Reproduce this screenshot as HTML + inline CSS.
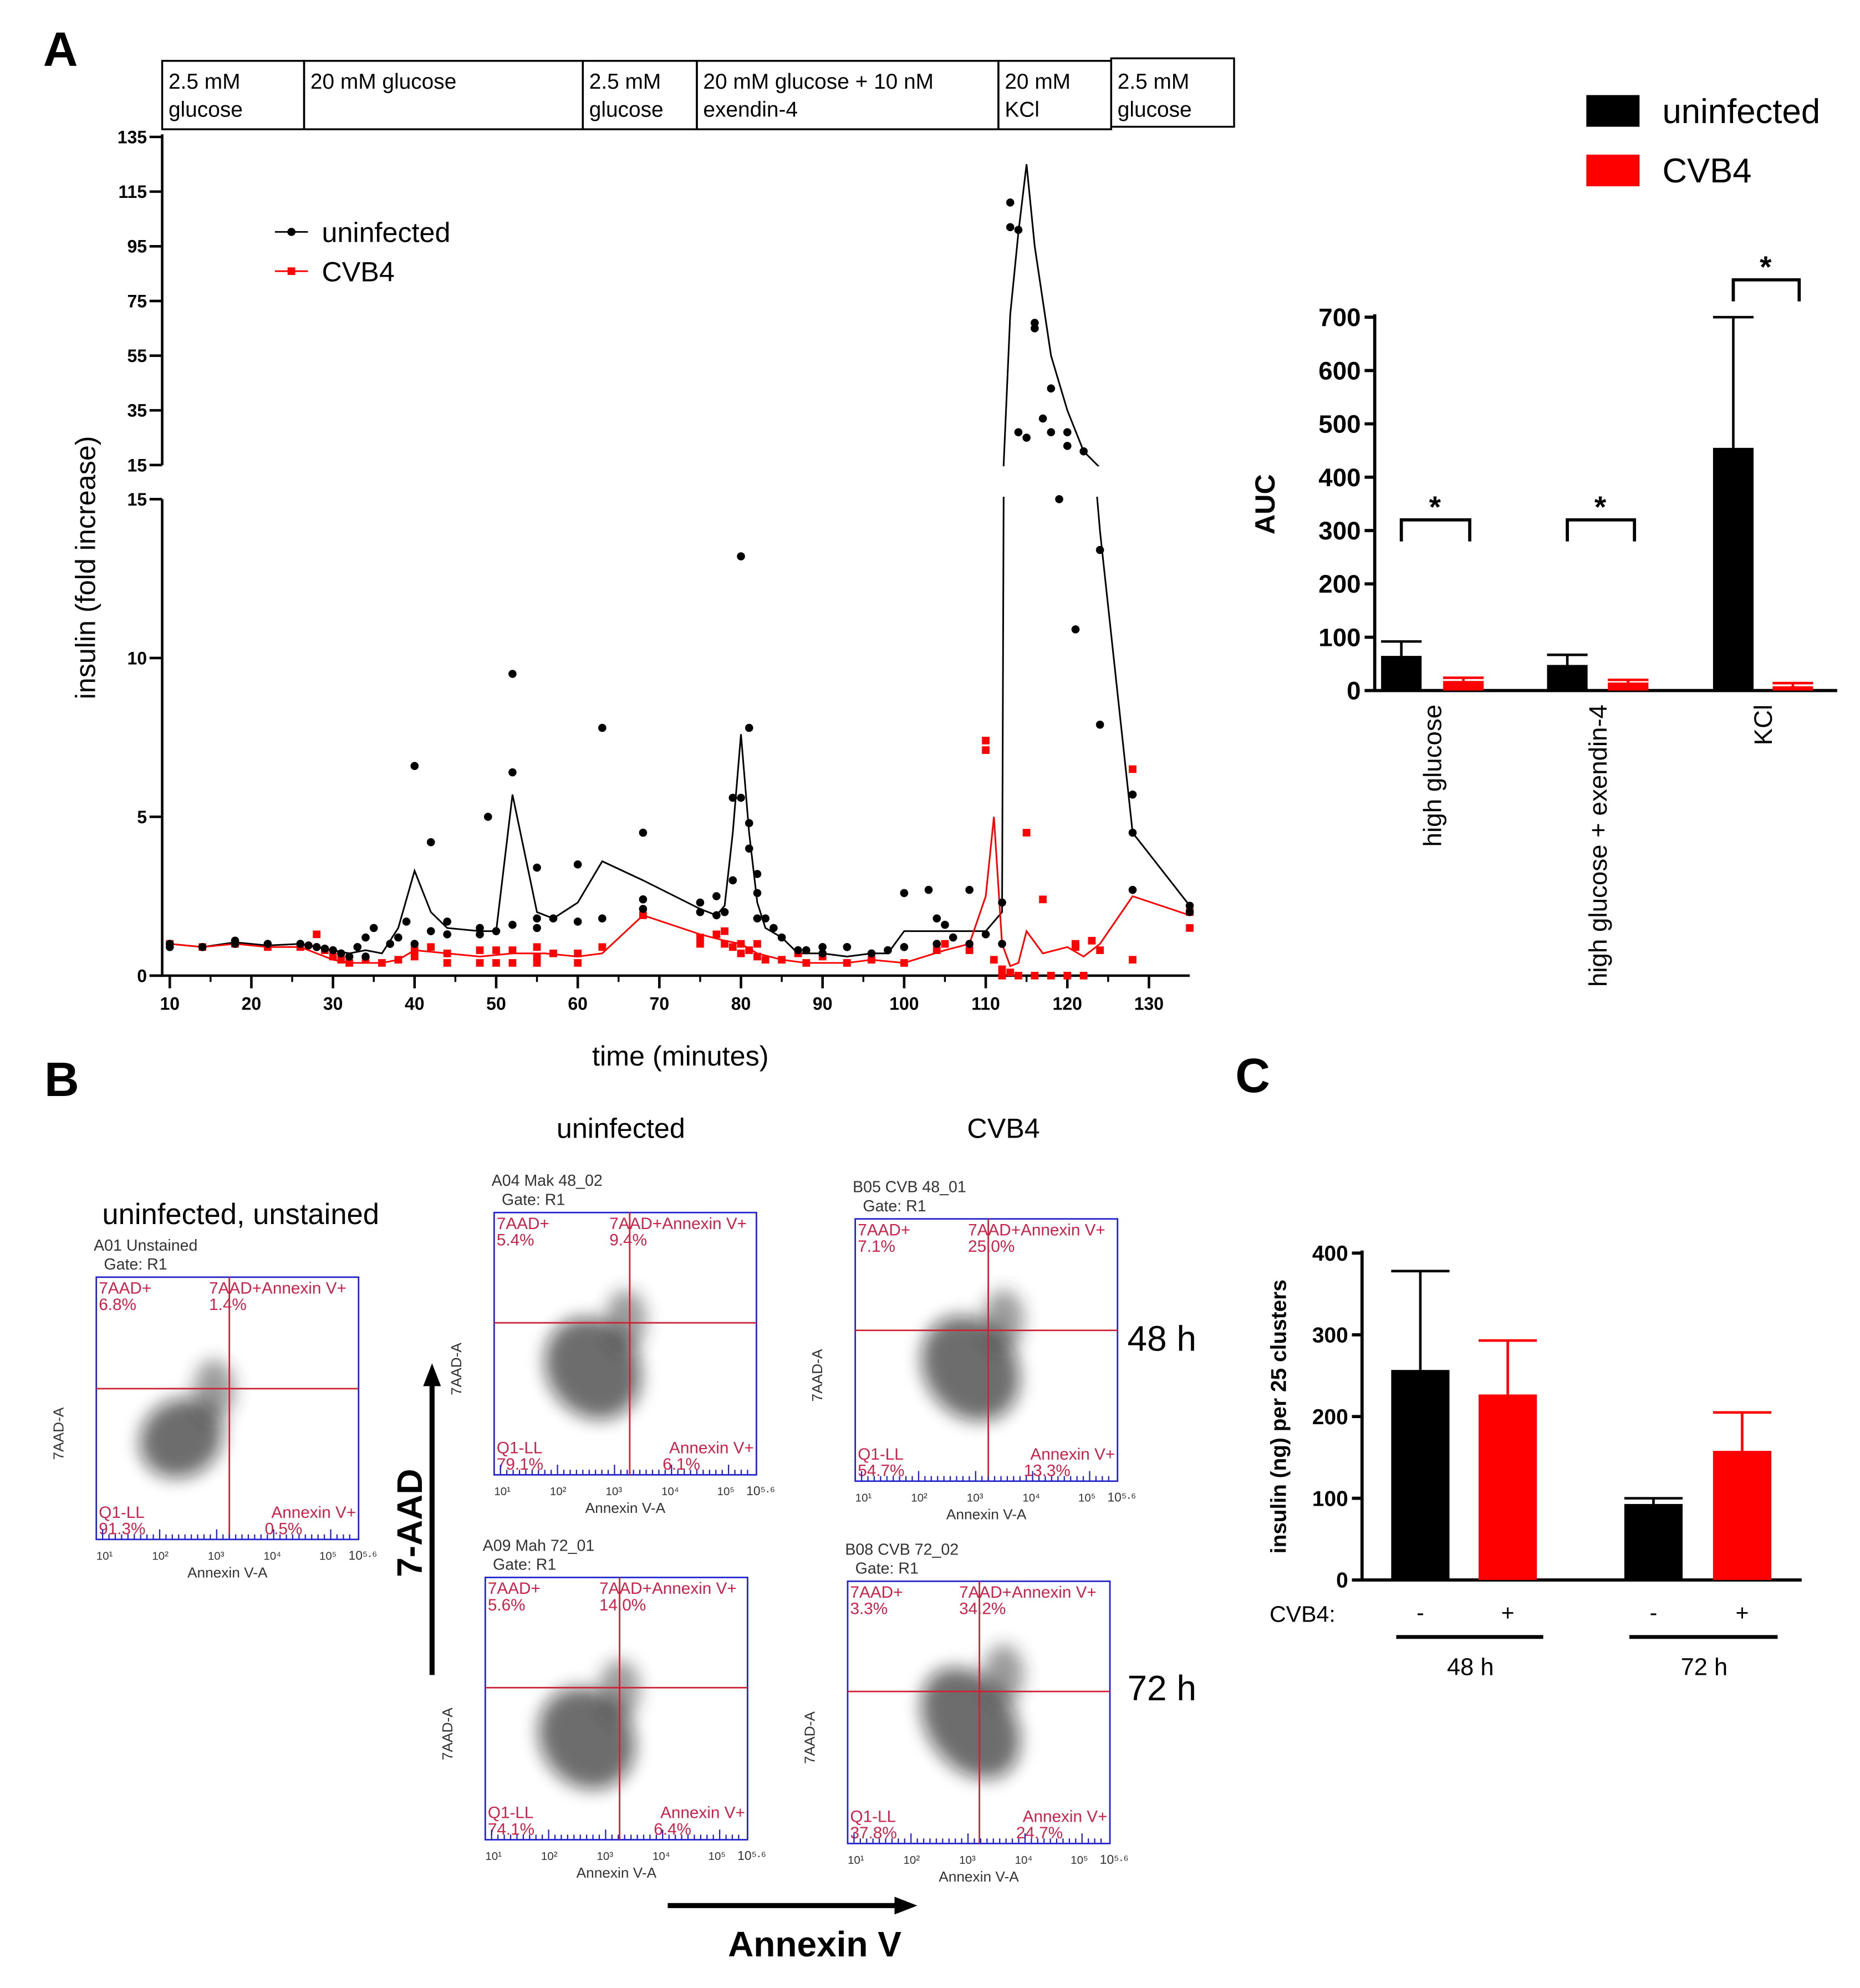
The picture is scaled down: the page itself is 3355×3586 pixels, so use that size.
<!DOCTYPE html>
<html><head><meta charset="utf-8">
<style>
html,body{margin:0;padding:0;background:#fff;}
svg{display:block;font-family:"Liberation Sans",Arial,sans-serif;}
</style></head>
<body>
<svg id="fig" width="3355" height="3586" viewBox="0 0 1468 1569" xmlns="http://www.w3.org/2000/svg">
<defs>
<filter id="blur" x="-50%" y="-50%" width="200%" height="200%"><feGaussianBlur stdDeviation="7"/></filter>
<clipPath id="clipLow"><rect x="100" y="392" width="860" height="390"/></clipPath>
<clipPath id="clipUp"><rect x="100" y="100" width="860" height="268"/></clipPath>
</defs>
<g id="panelA"></g>
<g id="panelAuc"></g>
<g id="panelB"></g>
<g id="panelC"></g>
</svg>
<script>
// ---------- Panel A data ----------
const tickTimes = [10,20,30,40,50,60,70,80,90,100,110,120,130];
const lowTicks = [0,5,10,15];
const upTicks = [15,35,55,75,95,115,135];
const meanUninfT = [10,14,18,22,26,28,30,32,34,36,38,40,42,44,48,50,52,55,57,60,63,68,75,77,78,79,80,81,82,83,85,87,90,93,96,98,100,105,108,110,112,113,114,115,116,118,120,122,124,128,135];
const meanUninfV = [1,0.9,1.05,0.95,1,0.9,0.8,0.7,0.8,0.7,1.5,3.3,2.0,1.5,1.4,1.4,5.7,2.0,1.8,2.3,3.6,3.0,2.1,1.9,2.2,4.5,7.6,4.5,2.3,1.5,1.2,0.7,0.7,0.6,0.7,0.7,1.4,1.4,1.4,1.4,2.0,70,100,125,95,55,35,20,14,4.5,2.2];
const meanCvbT = [10,14,18,22,26,28,30,32,36,38,40,44,48,52,56,60,63,68,75,78,80,82,85,88,93,96,100,105,108,110,111,112,113,114,115,117,120,122,124,128,135];
const meanCvbV = [1,0.9,1.0,0.9,0.9,0.7,0.5,0.4,0.4,0.5,0.8,0.7,0.6,0.7,0.7,0.6,0.7,1.9,1.3,1.1,1.0,0.7,0.5,0.4,0.4,0.5,0.4,0.8,1.0,2.5,5.0,1.0,0.3,0.4,1.4,0.7,0.9,0.6,1.0,2.5,1.9];
const dotUninfT = [10,10,14,18,18,22,26,27,28,29,30,31,32,33,34,34,35,37,38,39,40,40,42,42,44,44,48,48,49,50,52,52,52,55,55,55,57,60,60,63,63,68,68,68,75,75,77,77,78,79,79,80,80,81,81,81,82,82,82,83,84,85,87,88,90,90,93,96,98,100,100,103,104,104,105,106,108,108,110,112,112,113,113,114,114,115,116,116,117,118,118,119,120,120,122,124,121,124,128,128,128,135,135];
const dotUninfV = [1.0,0.9,0.9,1.1,1.0,1.0,1.0,0.95,0.9,0.85,0.8,0.7,0.6,0.9,1.2,0.6,1.5,1.0,1.2,1.7,6.6,1.0,4.2,1.4,1.7,1.3,1.5,1.3,5.0,1.4,9.5,6.4,1.6,3.4,1.8,1.5,1.8,3.5,1.7,7.8,1.8,4.5,2.4,2.1,2.3,2.0,1.9,2.5,2.0,3.0,5.6,5.6,13.2,7.8,4.8,4.0,3.2,1.8,2.6,1.8,1.5,1.2,0.8,0.8,0.9,0.7,0.9,0.7,0.8,2.6,0.9,2.7,1.8,1.0,1.6,1.2,2.7,1.0,1.3,2.3,1.0,102,111,101,27,25,67,65,32,43,27,15,22,27,20,13.4,10.9,7.9,5.7,4.5,2.7,2.2,2.0];
const dotCvbT = [10,14,18,22,26,28,29,30,31,32,34,36,38,40,40,42,44,44,48,48,50,50,52,52,55,55,55,57,60,60,63,68,75,75,77,78,78,79,80,80,81,82,82,83,85,87,88,90,93,96,100,104,105,108,110,110,111,112,112,113,114,115,116,117,118,120,121,121,122,123,124,128,128,135,135];
const dotCvbV = [1.0,0.9,1.0,0.9,0.9,1.3,0.8,0.6,0.5,0.4,0.5,0.4,0.5,0.6,0.8,0.9,0.4,0.7,0.4,0.8,0.4,0.8,0.8,0.4,0.9,0.6,0.4,0.7,0.7,0.4,0.9,1.9,1.2,1.0,1.3,1.4,1.0,0.9,1.0,0.7,0.8,0.6,1.0,0.5,0.5,0.7,0.4,0.6,0.4,0.5,0.4,0.8,1.0,0.8,7.4,7.1,0.5,0.2,0.0,0.1,0.0,4.5,0.0,2.4,0.0,0.0,1.0,0.9,0.0,1.1,0.8,6.5,0.5,2.0,1.5];
const phaseLabels1 = ["2.5 mM","20 mM glucose","2.5 mM","20 mM glucose + 10 nM","20 mM","2.5 mM"];
const phaseLabels2 = ["glucose","","glucose","exendin-4","KCl","glucose"];
// ---------- AUC data ----------
const aucCats = ["high glucose","high glucose + exendin-4","KCl"];
const aucUninf = [65,48,455];
const aucUninfErr = [92,67,700];
const aucCvb = [18,15,8];
const aucCvbErr = [24,20,14];
const aucTicks = [0,100,200,300,400,500,600,700];
const aucBracket = [320,320,770];
// ---------- Panel C data ----------
const cGroups = ["48 h","72 h"];
const cUninf = [257,93];
const cUninfErr = [378,100];
const cCvb = [227,158];
const cCvbErr = [293,205];
const cTicks = [0,100,200,300,400];

const NS="http://www.w3.org/2000/svg";
function mk(parent,tag,attrs,text){const e=document.createElementNS(NS,tag);for(const k in attrs)e.setAttribute(k,attrs[k]);if(text!==undefined)e.textContent=text;parent.appendChild(e);return e;}

// ===== Panel A =====
const A=document.getElementById('panelA');
const xT=t=>134+(t-10)*6.44;
const yLow=v=>770-v*25.07;
const yUp=v=>367-(v-15)*2.158;
let t=mk(A,'text',{x:34,y:52,'font-size':38,'font-weight':'bold'},'A');

const boxEdges=[128,240,460,550,788,877,974];
for(let i=0;i<6;i++){
  const r=mk(A,'rect',{x:boxEdges[i],y:i==5?46:48,width:boxEdges[i+1]-boxEdges[i],height:54,fill:'none',stroke:'#000','stroke-width':1.5});
  
  let a=mk(A,'text',{x:boxEdges[i]+5,y:70,'font-size':17},phaseLabels1[i]);
  
  let b=mk(A,'text',{x:boxEdges[i]+5,y:92,'font-size':17},phaseLabels2[i]);
  
}
let ax=mk(A,'g',{});
mk(ax,'line',{x1:128,y1:394,x2:128,y2:771,stroke:'#000','stroke-width':2});
mk(ax,'line',{x1:128,y1:106,x2:128,y2:367,stroke:'#000','stroke-width':2});
lowTicks.forEach(v=>{mk(ax,'line',{x1:118,x2:128,y1:yLow(v),y2:yLow(v),stroke:'#000','stroke-width':2});
  const e=mk(ax,'text',{x:116,y:yLow(v)+5,'font-size':14,'font-weight':'bold','text-anchor':'end'},v);});
upTicks.forEach(v=>{mk(ax,'line',{x1:118,x2:128,y1:yUp(v),y2:yUp(v),stroke:'#000','stroke-width':2});
  const e=mk(ax,'text',{x:116,y:yUp(v)+5,'font-size':14,'font-weight':'bold','text-anchor':'end'},v);});
let xa=mk(A,'g',{});
mk(xa,'line',{x1:118,y1:770,x2:939,y2:770,stroke:'#000','stroke-width':2});
tickTimes.forEach(v=>{mk(xa,'line',{x1:xT(v),x2:xT(v),y1:770,y2:780,stroke:'#000','stroke-width':2});
  const e=mk(xa,'text',{x:xT(v),y:797,'font-size':14,'font-weight':'bold','text-anchor':'middle'},v);});
for(let v=15;v<135;v+=10){mk(xa,'line',{x1:xT(v),x2:xT(v),y1:770,y2:775,stroke:'#000','stroke-width':1.5});}
t=mk(A,'text',{x:537,y:841,'font-size':22,'text-anchor':'middle'},'time (minutes)');
t=mk(A,'text',{x:0,y:0,'font-size':22,'text-anchor':'middle',transform:'translate(75,448) rotate(-90)'},'insulin (fold increase)');
function linePts(T,V,f){return T.map((tt,i)=>xT(tt)+','+f(V[i])).join(' ');}
[['clipLow',yLow],['clipUp',yUp]].forEach(([c,f])=>{
  let l=mk(A,'polyline',{points:linePts(meanUninfT,meanUninfV,f),fill:'none',stroke:'#000','stroke-width':1.3,'clip-path':`url(#${c})`});
  
  l=mk(A,'polyline',{points:linePts(meanCvbT,meanCvbV,f),fill:'none',stroke:'#f00','stroke-width':1.3,'clip-path':`url(#${c})`});
  
});
const yAny=v=>v>15?yUp(v):yLow(v);
dotCvbT.forEach((tt,i)=>{const s=mk(A,'rect',{x:xT(tt)-3,y:yAny(dotCvbV[i])-3,width:6,height:6,fill:'#f00'});
  });
dotUninfT.forEach((tt,i)=>{const s=mk(A,'circle',{cx:xT(tt),cy:yAny(dotUninfV[i]),r:3.2,fill:'#000'});
  });
let lg=mk(A,'g',{});
mk(lg,'line',{x1:217,x2:243,y1:183,y2:183,stroke:'#000','stroke-width':1.3});
mk(lg,'circle',{cx:230,cy:183,r:3.2,fill:'#000'});
mk(lg,'text',{x:254,y:191,'font-size':22},'uninfected');
mk(lg,'line',{x1:217,x2:243,y1:214,y2:214,stroke:'#f00','stroke-width':1.3});
mk(lg,'rect',{x:227,y:211,width:6,height:6,fill:'#f00'});
mk(lg,'text',{x:254,y:222,'font-size':22},'CVB4');

// ===== AUC =====
const U=document.getElementById('panelAuc');
const yAuc=v=>545-v*0.421;
const aucCx=[[1106,1155],[1237,1285],[1368,1415]];
let lg2=mk(U,'g',{});
mk(lg2,'rect',{x:1252,y:75,width:42,height:25,fill:'#000'});
mk(lg2,'text',{x:1312,y:97,'font-size':27},'uninfected');
mk(lg2,'rect',{x:1252,y:122,width:42,height:25,fill:'#f00'});
mk(lg2,'text',{x:1312,y:144,'font-size':27},'CVB4');
mk(U,'line',{x1:1085,y1:248,x2:1085,y2:546,stroke:'#000','stroke-width':2.5});
mk(U,'line',{x1:1084,y1:545,x2:1450,y2:545,stroke:'#000','stroke-width':2.5});
aucTicks.forEach(v=>{mk(U,'line',{x1:1077,x2:1085,y1:yAuc(v),y2:yAuc(v),stroke:'#000','stroke-width':2.5});
  const e=mk(U,'text',{x:1074,y:yAuc(v)+7,'font-size':20,'font-weight':'bold','text-anchor':'end'},v);});
t=mk(U,'text',{x:0,y:0,'font-size':22,'font-weight':'bold','text-anchor':'middle',transform:'translate(1006,398) rotate(-90)'},'AUC');
function bar(G,cx,w,v,err,fill,f,name){
  mk(G,'line',{x1:cx,x2:cx,y1:f(v),y2:f(err),stroke:fill,'stroke-width':2});
  mk(G,'line',{x1:cx-w/2,x2:cx+w/2,y1:f(err),y2:f(err),stroke:fill,'stroke-width':2});
  const r=mk(G,'rect',{x:cx-w/2,y:f(v),width:w,height:f(0)-f(v),fill:fill});
  
}
aucCats.forEach((c,i)=>{
  bar(U,aucCx[i][0],32,aucUninf[i],aucUninfErr[i],'#000',yAuc,'auc-bar-uninfected');
  bar(U,aucCx[i][1],32,aucCvb[i],aucCvbErr[i],'#f00',yAuc,'auc-bar-cvb4');
  const cx=(aucCx[i][0]+aucCx[i][1])/2;
  const e=mk(U,'text',{x:0,y:0,'font-size':20,'text-anchor':'end',transform:`translate(${cx+7},556) rotate(-90)`},c);
  
  const top=yAuc(aucBracket[i]);
  const br=mk(U,'path',{d:`M${aucCx[i][0]},${top+17} V${top} H${aucCx[i][1]+5} V${top+17}`,fill:'none',stroke:'#000','stroke-width':2.5});
  
  mk(U,'text',{x:cx+2,y:top-2,'font-size':24,'font-weight':'bold','text-anchor':'middle'},'*');
});

// ===== Panel C =====
const C=document.getElementById('panelC');
const yC=v=>1247-v*0.645;
const cCx=[[1121,1190],[1305,1375]];
t=mk(C,'text',{x:975,y:862,'font-size':38,'font-weight':'bold'},'C');
mk(C,'line',{x1:1075,y1:987,x2:1075,y2:1248,stroke:'#000','stroke-width':2.5});
mk(C,'line',{x1:1074,y1:1247,x2:1422,y2:1247,stroke:'#000','stroke-width':2.5});
cTicks.forEach(v=>{mk(C,'line',{x1:1067,x2:1075,y1:yC(v),y2:yC(v),stroke:'#000','stroke-width':2.5});
  const e=mk(C,'text',{x:1064,y:yC(v)+6,'font-size':17,'font-weight':'bold','text-anchor':'end'},v);});
t=mk(C,'text',{x:0,y:0,'font-size':17,'font-weight':'bold','text-anchor':'middle',transform:'translate(1015,1118) rotate(-90)'},'insulin (ng) per 25 clusters');
t=mk(C,'text',{x:1002,y:1280,'font-size':18},'CVB4:');
cGroups.forEach((g,i)=>{
  bar(C,cCx[i][0],46,cUninf[i],cUninfErr[i],'#000',yC,'c-bar-uninfected');
  bar(C,cCx[i][1],46,cCvb[i],cCvbErr[i],'#f00',yC,'c-bar-cvb4');
  mk(C,'text',{x:cCx[i][0],y:1279,'font-size':18,'text-anchor':'middle'},'-');
  mk(C,'text',{x:cCx[i][1],y:1279,'font-size':18,'text-anchor':'middle'},'+');
  mk(C,'line',{x1:cCx[i][0]-19,x2:cCx[i][1]+28,y1:1292,y2:1292,stroke:'#000','stroke-width':3});
  const e=mk(C,'text',{x:(cCx[i][0]+cCx[i][1])/2+5,y:1322,'font-size':19,'text-anchor':'middle'},g);
  
});

// ===== Panel B (flow plots) =====
const B=document.getElementById('panelB');
t=mk(B,'text',{x:35,y:865,'font-size':38,'font-weight':'bold'},'B');
[[490,898,'uninfected',22],[792,898,'CVB4',22],[190,966,'uninfected, unstained',23],[917,1066,'48 h',28],[917,1342,'72 h',28]].forEach(a=>{
  const e=mk(B,'text',{x:a[0],y:a[1],'font-size':a[3],'text-anchor':'middle'},a[2]);});
mk(B,'line',{x1:341,y1:1322,x2:341,y2:1092,stroke:'#000','stroke-width':4});
mk(B,'polygon',{points:'341,1076 334,1094 348,1094',fill:'#000'});
t=mk(B,'text',{x:0,y:0,'font-size':28,'font-weight':'bold','text-anchor':'middle',transform:'translate(333,1202) rotate(-90)'},'7-AAD');
mk(B,'line',{x1:527,y1:1504,x2:708,y2:1504,stroke:'#000','stroke-width':4});
mk(B,'polygon',{points:'724,1504 706,1497 706,1511',fill:'#000'});
t=mk(B,'text',{x:643,y:1544,'font-size':28,'font-weight':'bold','text-anchor':'middle'},'Annexin V');
const flows=[
 {x:76,y:1008,vx:181,hy:1096,cx:143,cy:1135,rx:34,ry:30,title:'A01 Unstained',q:['7AAD+','6.8%','7AAD+Annexin V+','1.4%','Q1-LL','91.3%','Annexin V+','0.5%']},
 {x:390,y:957,vx:497,hy:1044,cx:468,cy:1080,rx:36,ry:42,title:'A04 Mak 48_02',q:['7AAD+','5.4%','7AAD+Annexin V+','9.4%','Q1-LL','79.1%','Annexin V+','6.1%']},
 {x:675,y:962,vx:780,hy:1050,cx:766,cy:1080,rx:36,ry:44,title:'B05 CVB 48_01',q:['7AAD+','7.1%','7AAD+Annexin V+','25.0%','Q1-LL','54.7%','Annexin V+','13.3%']},
 {x:383,y:1245,vx:489,hy:1332,cx:463,cy:1372,rx:36,ry:42,title:'A09 Mah 72_01',q:['7AAD+','5.6%','7AAD+Annexin V+','14.0%','Q1-LL','74.1%','Annexin V+','6.4%']},
 {x:669,y:1248,vx:773,hy:1335,cx:766,cy:1360,rx:34,ry:48,title:'B08 CVB 72_02',q:['7AAD+','3.3%','7AAD+Annexin V+','34.2%','Q1-LL','37.8%','Annexin V+','24.7%']}
];
flows.forEach(f=>{
  const g=mk(B,'g',{});
  const w=207,h=207;
  mk(g,'text',{x:f.x-2,y:f.y-21,'font-size':12.5,fill:'#333'},f.title);
  mk(g,'text',{x:f.x+6,y:f.y-6,'font-size':12.5,fill:'#333'},'Gate: R1');
  mk(g,'ellipse',{cx:f.cx,cy:f.cy,rx:f.rx,ry:f.ry,fill:'#111',opacity:0.6,filter:'url(#blur)',transform:`rotate(-35 ${f.cx} ${f.cy})`});
  mk(g,'ellipse',{cx:f.cx+26,cy:f.cy-38,rx:16,ry:24,fill:'#222',opacity:0.45,filter:'url(#blur)'});
  mk(g,'rect',{x:f.x,y:f.y,width:w,height:h,fill:'none',stroke:'#22c','stroke-width':1.2});
  mk(g,'line',{x1:f.vx,x2:f.vx,y1:f.y,y2:f.y+h,stroke:'#c23','stroke-width':1.2});
  mk(g,'line',{x1:f.x,x2:f.x+w,y1:f.hy,y2:f.hy,stroke:'#c23','stroke-width':1.2});
  const red='#c8234a';
  mk(g,'text',{x:f.x+2,y:f.y+13,'font-size':13,fill:red},f.q[0]);
  mk(g,'text',{x:f.x+2,y:f.y+26,'font-size':13,fill:red},f.q[1]);
  mk(g,'text',{x:f.vx-16,y:f.y+13,'font-size':13,fill:red},f.q[2]);
  mk(g,'text',{x:f.vx-16,y:f.y+26,'font-size':13,fill:red},f.q[3]);
  mk(g,'text',{x:f.x+2,y:f.y+h-17,'font-size':13,fill:red},f.q[4]);
  mk(g,'text',{x:f.x+2,y:f.y+h-4,'font-size':13,fill:red},f.q[5]);
  mk(g,'text',{x:f.x+w-2,y:f.y+h-17,'font-size':13,fill:red,'text-anchor':'end'},f.q[6]);
  mk(g,'text',{x:f.x+w-74,y:f.y+h-4,'font-size':13,fill:red},f.q[7]);
  for(let k=0;k<40;k++){const xx=f.x+5+k*5;mk(g,'line',{x1:xx,x2:xx,y1:f.y+h,y2:f.y+h-(k%9==0?8:4),stroke:'#22c','stroke-width':1});}
  mk(g,'text',{x:f.x+w/2,y:f.y+h+30,'font-size':11.5,'text-anchor':'middle',fill:'#333'},'Annexin V-A');
  mk(g,'text',{x:0,y:0,'font-size':11.5,'text-anchor':'middle',fill:'#333',transform:`translate(${f.x-26},${f.y+h/2+20}) rotate(-90)`},'7AAD-A');
  ['10¹','10²','10³','10⁴','10⁵'].forEach((s,k)=>mk(g,'text',{x:f.x+k*44,y:f.y+h+16,'font-size':9,fill:'#333'},s));
  mk(g,'text',{x:f.x+w-8,y:f.y+h+16,'font-size':10,fill:'#333'},'10⁵·⁶');
});
</script>
</body></html>
